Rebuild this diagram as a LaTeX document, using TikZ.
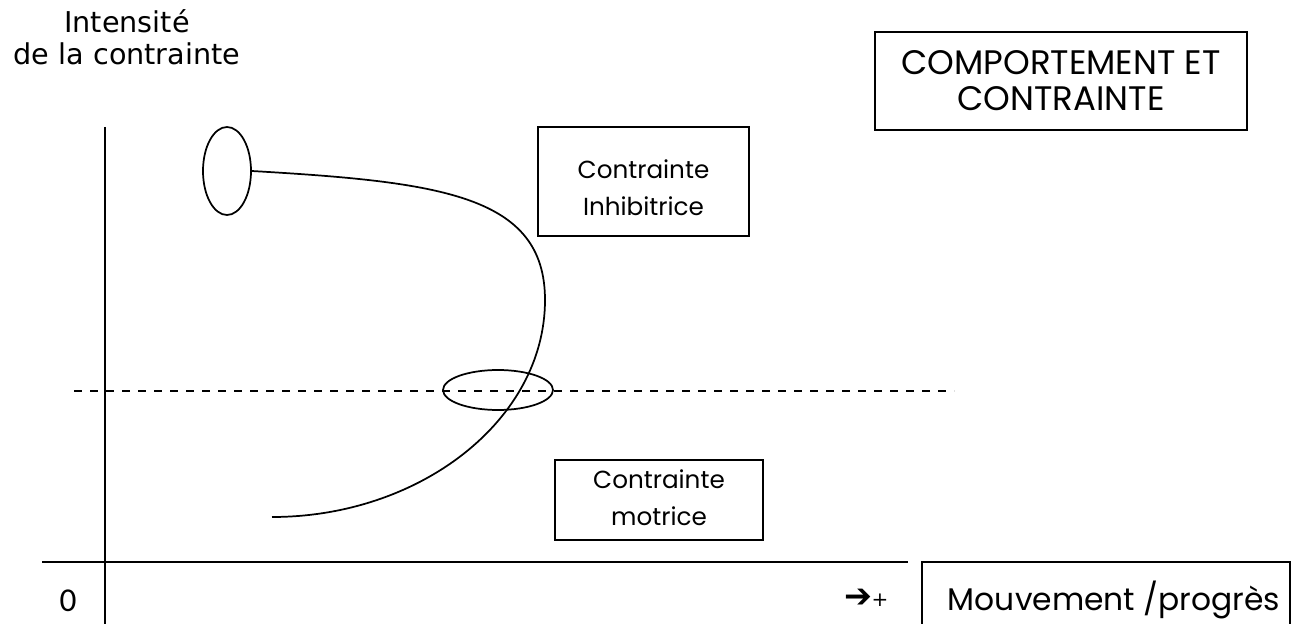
\documentclass[tikz,border=0pt]{standalone}
\usepackage{fontspec}
\setmainfont{Poppins}
\newfontfamily\labfont{DejaVu Sans}
\newfontfamily\zerofont{Carlito}
\usetikzlibrary{shapes.geometric}
\begin{document}
\begin{tikzpicture}[x=0.75pt,y=-0.75pt,
  line/.style={line width=1.3pt},
  boxed/.style={draw,line width=1.3pt,inner sep=0pt},
  boxtext/.style={align=center,inner sep=0pt,font=\fontsize{18.5}{27.5}\selectfont},
  ring/.style={draw,line width=1.3pt,ellipse,inner sep=0pt},
  lab/.style={align=center,font=\labfont\fontsize{21.5}{24}\selectfont}]
\useasboundingbox (0,0) rectangle (1296,624);
% axes
\coordinate (ytop) at (105,127);
\coordinate (ybot) at (105,624);
\coordinate (xl) at (42,562);
\coordinate (xr) at (908,562);
\draw[line] (ytop) -- (ybot);
\draw[line] (xl) -- (xr);
% dashed threshold
\coordinate (dl) at (74,391);
\coordinate (dr) at (954,391);
\draw[line,dash pattern=on 6pt off 6pt] (dl) -- (dr);
% labels
\node[lab] (ylab) at (127,37) {Intensité\\de la contrainte};
\node[font=\zerofont\fontsize{25}{28}\selectfont] (zero) at (68,601) {0};
\node[font=\labfont\fontsize{25}{26}\selectfont,inner sep=0pt] (arr) at (858,598) {➔};
\node[font=\labfont\fontsize{15}{16}\selectfont,inner sep=0pt] (plus) at (880,600) {+};
% boxes
\node[boxed,align=center,font=\fontsize{25.5}{27}\selectfont,minimum width=372*0.75pt,minimum height=98*0.75pt] (title) at (1061,81) {COMPORTEMENT ET\\CONTRAINTE};
\node[boxed,minimum width=211*0.75pt,minimum height=109*0.75pt] (inh) at (643.5,181.5) {};
\node[boxtext] (inhtxt) at (643.5,188) {Contrainte\\Inhibitrice};
\node[boxed,minimum width=208*0.75pt,minimum height=80*0.75pt] (mot) at (659,500) {};
\node[boxtext] (mottxt) at (659,498) {Contrainte\\motrice};
\draw[line] (922,626) -- (922,562) -- (1290,562) -- (1290,626);
\node[font=\fontsize{23.5}{26}\selectfont] (mvt) at (1114,600) {Mouvement /progrès};
% ellipses
\node[ring,minimum width=48*0.75pt,minimum height=88*0.75pt] (e1) at (227,171) {};
\node[ring,minimum width=110*0.75pt,minimum height=40*0.75pt] (e2) at (498,390) {};
% curve
\coordinate (cmid) at (545,300);
\coordinate (cend) at (272,517);
\draw[line] (e1.east) .. controls (440,182) and (545,195) .. (cmid)
  .. controls (545,420) and (420,517) .. (cend);
\end{tikzpicture}
\end{document}
